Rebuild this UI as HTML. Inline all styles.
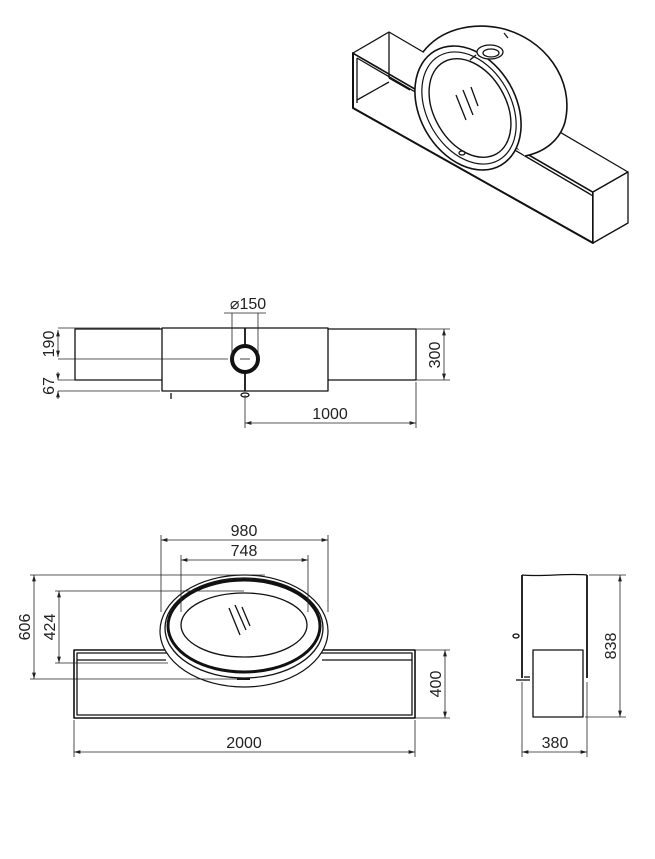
<!DOCTYPE html>
<html><head><meta charset="utf-8"><style>
html,body{margin:0;padding:0;background:#fff;}
svg{display:block;}
text{font-family:"Liberation Sans",sans-serif;font-size:16px;fill:#222;}
</style></head><body>
<svg width="655" height="859" viewBox="0 0 655 859" xmlns="http://www.w3.org/2000/svg">
<defs>
<marker id="a" viewBox="0 0 10 6" refX="10" refY="3" markerWidth="8" markerHeight="5" orient="auto-start-reverse"><path d="M0,0 L10,3 L0,6 Z" fill="#222"/></marker>
</defs>
<g fill="none" stroke="#111" stroke-linejoin="round">
<!-- ISOMETRIC -->
<g stroke-width="1.3">
<polygon points="353,53 593,192 593,243 353,108" fill="#fff" stroke-width="2"/>
<polygon points="353,53 389,32 628,172 593,192" fill="#fff"/>
<polygon points="593,192 628,172 628,223 593,243" fill="#fff"/>
<line x1="357" y1="58" x2="590" y2="194"/>
<line x1="357" y1="58" x2="357" y2="103"/>
<line x1="357" y1="100" x2="389" y2="82"/>
<line x1="389" y1="78" x2="389" y2="32"/>
<line x1="389" y1="78" x2="410" y2="90"/>
<line x1="525" y1="156" x2="593" y2="196"/>
<!-- disc -->
<path d="M423,52 C440,30 470,22 500,28 C545,38 575,80 565,122 C560,140 545,152 525,156" fill="#fff" stroke-width="1.6"/>
<ellipse cx="468" cy="108" rx="48" ry="66" transform="rotate(-30 468 108)" fill="#fff" stroke-width="1.6"/>
<ellipse cx="469" cy="108" rx="42" ry="60" transform="rotate(-30 469 108)" stroke-width="1.2"/>
<ellipse cx="470" cy="108" rx="36" ry="53" transform="rotate(-30 470 108)" stroke-width="1.4"/>
<ellipse cx="490" cy="52" rx="13" ry="7" fill="#fff"/>
<ellipse cx="491" cy="53" rx="8" ry="4"/>
<line x1="508" y1="38" x2="504" y2="33"/>
<line x1="470" y1="60" x2="476" y2="55"/>
<line x1="456" y1="95" x2="466" y2="120"/>
<line x1="463" y1="90" x2="473" y2="115"/>
<line x1="471" y1="87" x2="478" y2="106"/>
<ellipse cx="462" cy="153" rx="3" ry="2"/>
</g>

<!-- TOP VIEW -->
<g stroke-width="1.3">
<rect x="75" y="329" width="341" height="51" fill="#fff"/>
<rect x="162" y="328" width="166" height="63" fill="#fff"/>
<line x1="245" y1="328" x2="245" y2="391" stroke-width="1.8"/>
<circle cx="245" cy="359" r="13" fill="#fff" stroke-width="4"/>
<line x1="240" y1="359" x2="250" y2="359" stroke-width="0.8"/>
<ellipse cx="245" cy="395" rx="4" ry="2"/>
<line x1="171" y1="393" x2="171" y2="399"/>
</g>
<g stroke-width="0.8" stroke="#222">
<line x1="58" y1="328" x2="160" y2="328"/>
<line x1="58" y1="359" x2="228" y2="359"/>
<line x1="58" y1="380" x2="75" y2="380"/>
<line x1="58" y1="391" x2="160" y2="391"/>
<line x1="58" y1="330" x2="58" y2="357" marker-start="url(#a)" marker-end="url(#a)"/>
<line x1="58" y1="372" x2="58" y2="380" marker-end="url(#a)"/>
<line x1="58" y1="399" x2="58" y2="391" marker-end="url(#a)"/>
<line x1="232" y1="313" x2="232" y2="359"/>
<line x1="258" y1="313" x2="258" y2="359"/>
<line x1="224" y1="313" x2="266" y2="313"/>
<line x1="416" y1="329" x2="450" y2="329"/>
<line x1="416" y1="380" x2="450" y2="380"/>
<line x1="444" y1="329" x2="444" y2="380" marker-start="url(#a)" marker-end="url(#a)"/>
<line x1="245" y1="395" x2="245" y2="428"/>
<line x1="416" y1="382" x2="416" y2="428"/>
<line x1="245" y1="423" x2="416" y2="423" marker-start="url(#a)" marker-end="url(#a)"/>
</g>

<!-- FRONT VIEW -->
<g stroke-width="1.3">
<rect x="74" y="650" width="341" height="68" fill="#fff" stroke-width="1.6"/>
<rect x="77" y="653" width="335" height="62"/>
<line x1="77" y1="660" x2="166" y2="660"/>
<line x1="322" y1="660" x2="412" y2="660"/>
<ellipse cx="244" cy="631" rx="84" ry="56" fill="#fff" stroke-width="1.2"/>
<ellipse cx="244" cy="628" rx="79" ry="50"/>
<ellipse cx="244" cy="626" rx="76" ry="46" stroke-width="3"/>
<ellipse cx="244" cy="625" rx="63" ry="32"/>
<line x1="229" y1="608" x2="240" y2="635"/>
<line x1="235" y1="605" x2="246" y2="630"/>
<line x1="242" y1="607" x2="250" y2="626"/>
<line x1="237" y1="679" x2="250" y2="679" stroke-width="2"/>
</g>
<g stroke-width="0.8" stroke="#222">
<line x1="161" y1="535" x2="161" y2="612"/>
<line x1="328" y1="535" x2="328" y2="612"/>
<line x1="161" y1="540" x2="328" y2="540" marker-start="url(#a)" marker-end="url(#a)"/>
<line x1="181" y1="555" x2="181" y2="612"/>
<line x1="308" y1="555" x2="308" y2="612"/>
<line x1="181" y1="560" x2="308" y2="560" marker-start="url(#a)" marker-end="url(#a)"/>
<line x1="30" y1="575" x2="265" y2="575"/>
<line x1="30" y1="679" x2="244" y2="679"/>
<line x1="34" y1="575" x2="34" y2="679" marker-start="url(#a)" marker-end="url(#a)"/>
<line x1="55" y1="591" x2="244" y2="591"/>
<line x1="55" y1="663" x2="168" y2="663"/>
<line x1="59" y1="591" x2="59" y2="663" marker-start="url(#a)" marker-end="url(#a)"/>
<line x1="415" y1="650" x2="450" y2="650"/>
<line x1="415" y1="718" x2="450" y2="718"/>
<line x1="445" y1="650" x2="445" y2="718" marker-start="url(#a)" marker-end="url(#a)"/>
<line x1="74" y1="720" x2="74" y2="757"/>
<line x1="415" y1="720" x2="415" y2="757"/>
<line x1="74" y1="752" x2="415" y2="752" marker-start="url(#a)" marker-end="url(#a)"/>
</g>

<!-- SIDE VIEW -->
<g stroke-width="1.3">
<path d="M522,575 C545,577 565,573 587,575"/>
<line x1="522" y1="575" x2="522" y2="678" stroke-width="1.8"/>
<line x1="587" y1="575" x2="587" y2="678" stroke-width="1.8"/>
<line x1="524" y1="677" x2="530" y2="677"/>
<line x1="516" y1="680" x2="530" y2="680"/>
<rect x="533" y="650" width="50" height="67" fill="#fff"/>
<ellipse cx="516" cy="636" rx="3" ry="2"/>
</g>
<g stroke-width="0.8" stroke="#222">
<line x1="589" y1="575" x2="626" y2="575"/>
<line x1="585" y1="717" x2="626" y2="717"/>
<line x1="620" y1="575" x2="620" y2="717" marker-start="url(#a)" marker-end="url(#a)"/>
<line x1="522" y1="682" x2="522" y2="757"/>
<line x1="587" y1="682" x2="587" y2="757"/>
<line x1="522" y1="752" x2="587" y2="752" marker-start="url(#a)" marker-end="url(#a)"/>
</g>
</g>

<!-- texts -->
<text x="248" y="309" text-anchor="middle">⌀150</text>
<text transform="translate(54,344) rotate(-90)" text-anchor="middle">190</text>
<text transform="translate(54,386) rotate(-90)" text-anchor="middle">67</text>
<text transform="translate(440,355) rotate(-90)" text-anchor="middle">300</text>
<text x="330" y="419" text-anchor="middle">1000</text>
<text x="244" y="536" text-anchor="middle">980</text>
<text x="244" y="556" text-anchor="middle">748</text>
<text transform="translate(30,627) rotate(-90)" text-anchor="middle">606</text>
<text transform="translate(55,627) rotate(-90)" text-anchor="middle">424</text>
<text transform="translate(441,684) rotate(-90)" text-anchor="middle">400</text>
<text x="244" y="748" text-anchor="middle">2000</text>
<text transform="translate(616,646) rotate(-90)" text-anchor="middle">838</text>
<text x="555" y="748" text-anchor="middle">380</text>
</svg>
</body></html>
